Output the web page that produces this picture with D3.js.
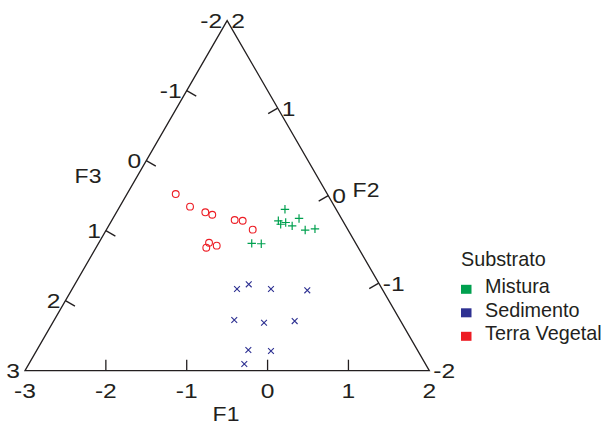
<!DOCTYPE html>
<html><head><meta charset="utf-8">
<script src="https://cdn.jsdelivr.net/npm/d3@7"></script>
<style>html,body{margin:0;padding:0;background:#fff;}svg{display:block;font-family:"Liberation Sans",Arial,sans-serif;}</style>
</head><body>
<svg id="chart" width="607" height="425"></svg>
<script>
// ---- data (F1, F2 coordinates per sample) ----
const seriesNames = ["Mistura", "Sedimento", "Terra Vegetal"];
const seriesColors = ["#00a04f", "#2e3192", "#ed1c24"];
const misturaF1 = [0.215, 0.133, 0.162, 0.224, 0.304, 0.389, 0.465, 0.586, -0.196, -0.078];
const misturaF2 = [0.097, 0.031, -0.010, -0.020, -0.081, -0.051, -0.181, -0.219, -0.031, -0.081];
const sedimentoF1 = [-0.378, -0.233, 0.042, 0.491, -0.412, -0.044, 0.335, -0.238, 0.042, -0.288];
const sedimentoF2 = [-0.349, -0.367, -0.517, -0.708, -0.601, -0.771, -0.909, -0.928, -1.048, -1.028];
const terraF1 = [-1.136, -0.959, -0.770, -0.684, -0.407, -0.308, -0.184, -0.724, -0.629, -0.758];
const terraF2 = [0.768, 0.589, 0.465, 0.410, 0.254, 0.208, 0.082, 0.186, 0.123, 0.157];
const f1Ticks = [-2, -1, 0, 1];
const f1Labels = [-3, -2, -1, 0, 1, 2];
const f2Ticks = [1, 0, -1];
const f2Labels = [-2, -1, 0, 1, 2];
const f3Ticks = [2, 1, 0, -1];
const f3Labels = [3, 2, 1, 0, -1, -2];

// ---- geometry ----
const svg = d3.select("#chart");
const BL = {x: 25, y: 370.7}, L = 404.3;
const S = Math.sqrt(3) / 2;
const BR = {x: BL.x + L, y: BL.y};
const TOP = {x: BL.x + L / 2, y: BL.y - S * L};
const ink = "#231f20";

const f1Scale = d3.scaleLinear().domain([-3, 2]).range([0, L]); // along bottom from BL
const f2Scale = d3.scaleLinear().domain([-2, 2]).range([0, L]); // along right edge from BR
const f3Scale = d3.scaleLinear().domain([3, -2]).range([0, L]); // along left edge from BL

const u1 = {x: 1, y: 0}, n1 = {x: 0, y: -1};
const u2 = {x: -0.5, y: -S}, n2 = {x: -S, y: 0.5};
const u3 = {x: 0.5, y: -S}, n3 = {x: S, y: 0.5};

function onF1(v) { return {x: BL.x + u1.x * f1Scale(v), y: BL.y + u1.y * f1Scale(v)}; }
function onF2(v) { return {x: BR.x + u2.x * f2Scale(v), y: BR.y + u2.y * f2Scale(v)}; }
function onF3(v) { return {x: BL.x + u3.x * f3Scale(v), y: BL.y + u3.y * f3Scale(v)}; }

function project(f1, f2) {
  const px = BL.x + f1Scale(f1);
  const s2 = f2Scale(f2);
  const py = BR.y - (s2 + 0.5 * (px - BR.x)) / S;
  return [px, py];
}

// ---- triangle ----
svg.append("path")
  .attr("d", `M${BL.x},${BL.y}L${BR.x},${BR.y}L${TOP.x},${TOP.y}Z`)
  .attr("fill", "none").attr("stroke", ink).attr("stroke-width", 1.3)
  .attr("stroke-linejoin", "miter");

const tl = 11;
function ticks(vals, on, n) {
  svg.append("g").selectAll("line").data(vals).join("line")
    .attr("x1", d => on(d).x).attr("y1", d => on(d).y)
    .attr("x2", d => on(d).x + n.x * tl).attr("y2", d => on(d).y + n.y * tl)
    .attr("stroke", ink).attr("stroke-width", 1.3);
}
ticks(f1Ticks, onF1, n1);
ticks(f2Ticks, onF2, n2);
ticks(f3Ticks, onF3, n3);

const fs = 20.5, sx = 1.2;
const tg = svg.append("g").attr("fill", ink).attr("font-size", fs);
function label(x, y, anchor, txt, scale) {
  tg.append("text").attr("transform", `translate(${x},${y}) scale(${scale || sx},1)`)
    .attr("text-anchor", anchor).text(txt);
}
f1Labels.forEach(d => label(onF1(d).x, onF1(d).y + 27.5, "middle", d));
f2Labels.forEach(d => label(onF2(d).x + 4, onF2(d).y + 7.5, "start", d));
f3Labels.forEach(d => label(onF3(d).x - 5, onF3(d).y + 7.5, "end", d));

// axis titles
label(226, 420.5, "middle", "F1", 1.12);
label(366, 196.5, "middle", "F2", 1.12);
label(88, 182.5, "middle", "F3", 1.12);

// ---- points ----
const series = [
  {f1: misturaF1, f2: misturaF2, shape: "plus"},
  {f1: sedimentoF1, f2: sedimentoF2, shape: "x"},
  {f1: terraF1, f2: terraF2, shape: "circle"}
];
series.forEach((s, i) => {
  const pts = s.f1.map((v, j) => project(v, s.f2[j]));
  const g = svg.append("g");
  if (s.shape === "circle") {
    g.selectAll("circle").data(pts).join("circle")
      .attr("cx", d => d[0]).attr("cy", d => d[1]).attr("r", 3.4)
      .attr("fill", "none").attr("stroke", seriesColors[i]).attr("stroke-width", 1.1);
  } else if (s.shape === "plus") {
    const a = 4.2;
    g.selectAll("path").data(pts).join("path")
      .attr("d", d => `M${d[0]-a},${d[1]}H${d[0]+a}M${d[0]},${d[1]-a}V${d[1]+a}`)
      .attr("stroke", seriesColors[i]).attr("stroke-width", 1.2).attr("fill", "none");
  } else {
    const a = 2.9;
    g.selectAll("path").data(pts).join("path")
      .attr("d", d => `M${d[0]-a},${d[1]-a}L${d[0]+a},${d[1]+a}M${d[0]-a},${d[1]+a}L${d[0]+a},${d[1]-a}`)
      .attr("stroke", seriesColors[i]).attr("stroke-width", 1.1).attr("fill", "none");
  }
});

// ---- legend ----
const lg = svg.append("g").attr("font-size", 19.8).attr("fill", ink);
lg.append("text").attr("x", 461).attr("y", 266).text("Substrato");
const rowY = d3.scaleLinear().domain([0, 1]).range([293.3, 316.8]);
seriesNames.forEach((name, i) => {
  lg.append("rect").attr("x", 461).attr("y", rowY(i) - 8.5).attr("width", 10.5).attr("height", 9)
    .attr("fill", seriesColors[i]);
  lg.append("text").attr("x", 485).attr("y", rowY(i)).text(name);
});
</script>
</body></html>
